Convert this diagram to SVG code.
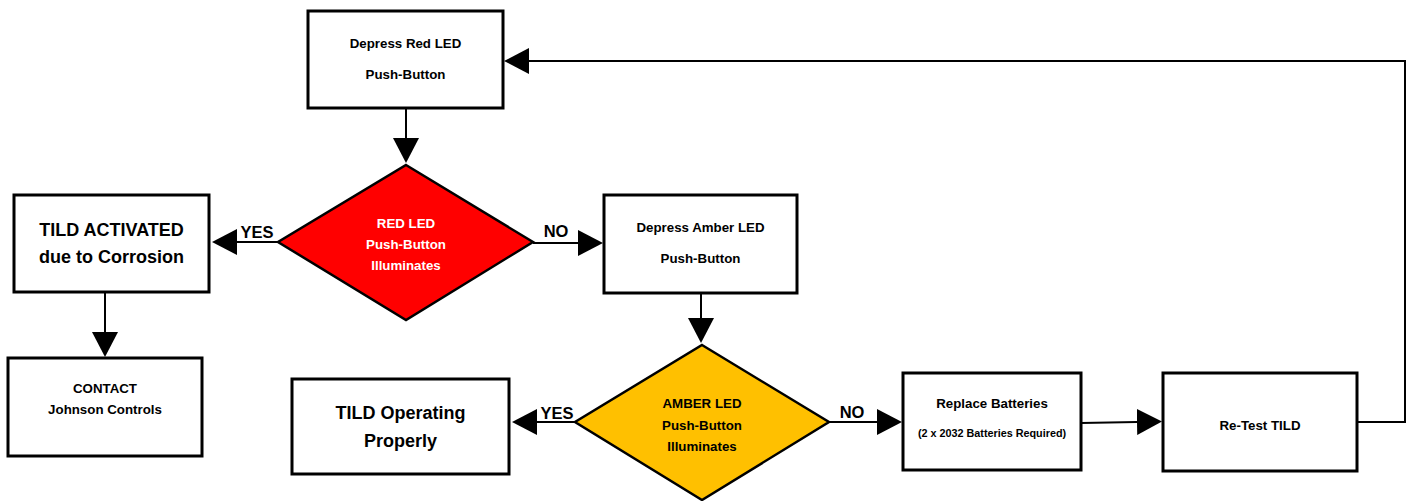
<svg xmlns="http://www.w3.org/2000/svg" width="1413" height="501" viewBox="0 0 1413 501">
<style>
text{font-family:"Liberation Sans",Arial,sans-serif;font-weight:bold;text-anchor:middle;fill:#000}
.box{fill:#fff;stroke:#000;stroke-width:3}
.dia{stroke:#000;stroke-width:2.5}
.s{font-size:13.3px}
.l{font-size:18px}
.lab{font-size:16.5px}
.xs{font-size:10.8px}
.w{fill:#fff}
.con{fill:none;stroke:#000;stroke-width:2}
</style>
<defs>
<marker id="ah" markerUnits="userSpaceOnUse" markerWidth="26" markerHeight="26" viewBox="0 0 26 26" refX="0" refY="13" orient="auto">
<path d="M0,0 L25,13 L0,26 Z" fill="#000"/>
</marker>
</defs>
<rect width="1413" height="501" fill="#fff"/>
<g id="connectors">
<path class="con" d="M406,108 V138" marker-end="url(#ah)"/>
<path class="con" d="M533,243 H578" marker-end="url(#ah)"/>
<path class="con" d="M278,242 H237" marker-end="url(#ah)"/>
<path class="con" d="M105,292 V332" marker-end="url(#ah)"/>
<path class="con" d="M701,293 V318" marker-end="url(#ah)"/>
<path class="con" d="M575,422 H537" marker-end="url(#ah)"/>
<path class="con" d="M829,422 H877" marker-end="url(#ah)"/>
<path class="con" d="M1081,423 L1137,422" marker-end="url(#ah)"/>
<path class="con" d="M1357,422 H1405 V61 H529" marker-end="url(#ah)"/>
<text class="lab" x="257" y="238">YES</text>
<text class="lab" x="556" y="237">NO</text>
<text class="lab" x="557" y="419">YES</text>
<text class="lab" x="852" y="418">NO</text>
</g>
<g id="depress-red">
<rect class="box" x="308" y="11" width="195" height="97"/>
<text class="s" x="405.5" y="48">Depress Red LED</text>
<text class="s" x="405.5" y="79">Push-Button</text>
</g>
<g id="red-decision">
<polygon class="dia" fill="#ff0000" points="406,165 533,242 406,320 278,242"/>
<text class="s w" x="406" y="228">RED LED</text>
<text class="s w" x="406" y="249">Push-Button</text>
<text class="s w" x="406" y="270">Illuminates</text>
</g>
<g id="tild-activated">
<rect class="box" x="14" y="195" width="195" height="97"/>
<text class="l" x="111.5" y="236">TILD ACTIVATED</text>
<text class="l" x="111.5" y="263">due to Corrosion</text>
</g>
<g id="contact">
<rect class="box" x="8" y="358" width="194" height="98"/>
<text class="s" x="105" y="393">CONTACT</text>
<text class="s" x="105" y="414">Johnson Controls</text>
</g>
<g id="depress-amber">
<rect class="box" x="604" y="195" width="193" height="98"/>
<text class="s" x="700.5" y="232">Depress Amber LED</text>
<text class="s" x="700.5" y="263">Push-Button</text>
</g>
<g id="amber-decision">
<polygon class="dia" fill="#ffc000" points="702,345 829,422 702,500 575,422"/>
<text class="s" x="702" y="408">AMBER LED</text>
<text class="s" x="702" y="430">Push-Button</text>
<text class="s" x="702" y="451">Illuminates</text>
</g>
<g id="tild-operating">
<rect class="box" x="292" y="379" width="217" height="95"/>
<text class="l" x="400.5" y="418.5">TILD Operating</text>
<text class="l" x="400.5" y="446.5">Properly</text>
</g>
<g id="replace-batteries">
<rect class="box" x="903" y="373" width="178" height="97"/>
<text class="s" x="992" y="408">Replace Batteries</text>
<text class="xs" x="992" y="437">(2 x 2032 Batteries Required)</text>
</g>
<g id="retest">
<rect class="box" x="1163" y="373" width="194" height="98"/>
<text class="s" x="1260" y="430">Re-Test TILD</text>
</g>
</svg>
